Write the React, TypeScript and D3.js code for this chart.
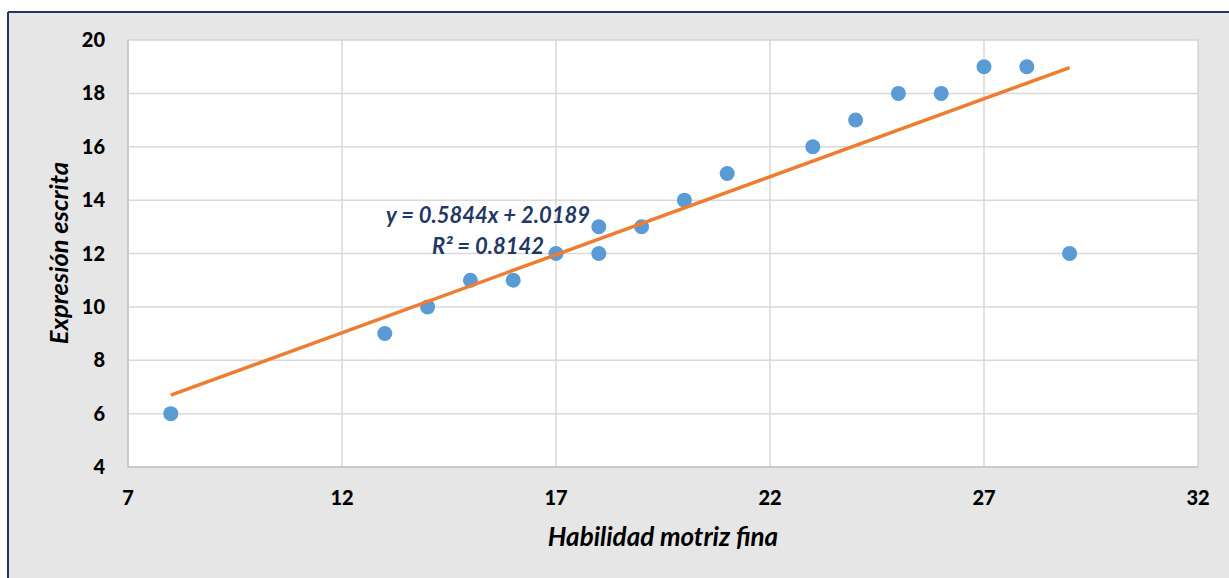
import React from "react";
import * as d3 from "d3";

const xValues = [8, 13, 14, 15, 16, 17, 18, 18, 19, 20, 21, 23, 24, 25, 26, 27, 28, 29];
const yValues = [6, 9, 10, 11, 11, 12, 13, 12, 13, 14, 15, 16, 17, 18, 18, 19, 19, 12];
const xTicks = [7, 12, 17, 22, 27, 32];
const yTicks = [4, 6, 8, 10, 12, 14, 16, 18, 20];
const slope = 0.5844;
const intercept = 2.0189;
const r2 = 0.8142;
const xTitle = "Habilidad motriz fina";
const yTitle = "Expresión escrita";

const W = 1229;
const H = 578;
const plot = { left: 128, top: 40, right: 1198, bottom: 467 };
const FONT = "Lato, 'Open Sans', sans-serif";

export default function App() {
  const x = d3.scaleLinear().domain([7, 32]).range([plot.left, plot.right]);
  const y = d3.scaleLinear().domain([4, 20]).range([plot.bottom, plot.top]);
  const xMin = d3.min(xValues) as number;
  const xMax = d3.max(xValues) as number;
  const trend = d3
    .line<number>()
    .x((d) => x(d))
    .y((d) => y(slope * d + intercept))([xMin, xMax]);

  return (
    <svg
      width={W}
      height={H}
      style={{ position: "absolute", left: 0, top: 0, display: "block" }}
      fontFamily={FONT}
    >
      <rect x={0} y={0} width={W} height={H} fill="#ffffff" />
      <rect x={8} y={12} width={W} height={H} fill="#e6e6e6" />
      <line x1={8} y1={12} x2={W} y2={12} stroke="#1f3864" strokeWidth={2} />
      <line x1={8} y1={12} x2={8} y2={H} stroke="#1f3864" strokeWidth={2} />
      <rect
        x={plot.left}
        y={plot.top}
        width={plot.right - plot.left}
        height={plot.bottom - plot.top}
        fill="#ffffff"
        stroke="#d4d4d4"
        strokeWidth={1.5}
      />
      {yTicks.slice(1, -1).map((t) => (
        <line key={"gy" + t} x1={plot.left} x2={plot.right} y1={y(t)} y2={y(t)} stroke="#d9d9d9" strokeWidth={1.5} />
      ))}
      {xTicks.slice(1, -1).map((t) => (
        <line key={"gx" + t} x1={x(t)} x2={x(t)} y1={plot.top} y2={plot.bottom} stroke="#d9d9d9" strokeWidth={1.5} />
      ))}
      <line x1={plot.left} x2={plot.right} y1={plot.bottom} y2={plot.bottom} stroke="#c4c4c4" strokeWidth={1.5} />
      <line x1={plot.left} x2={plot.left} y1={plot.top} y2={plot.bottom} stroke="#c4c4c4" strokeWidth={1.5} />
      {yTicks.map((t) => (
        <text key={"ty" + t} x={105} y={y(t)} dy="0.35em" textAnchor="end" fontSize={20} fontWeight={900} fill="#000">
          {t}
        </text>
      ))}
      {xTicks.map((t) => (
        <text key={"tx" + t} x={x(t)} y={498} dy="0.35em" textAnchor="middle" fontSize={20} fontWeight={900} fill="#000">
          {t}
        </text>
      ))}
      {xValues.map((xv, i) => (
        <circle key={"p" + i} cx={x(xv)} cy={y(yValues[i])} r={7.5} fill="#5b9bd5" />
      ))}
      <path d={trend || ""} fill="none" stroke="#ed7d31" strokeWidth={3.5} />
      <text x={488} y={215} dy="0.35em" textAnchor="middle" fontSize={22} fontWeight="bold" fontStyle="italic" fill="#1f3864">
        {`y = ${slope}x + ${intercept}`}
      </text>
      <text x={488} y={246} dy="0.35em" textAnchor="middle" fontSize={22} fontWeight="bold" fontStyle="italic" fill="#1f3864">
        {`R² = ${r2}`}
      </text>
      <text x={663} y={537} dy="0.35em" textAnchor="middle" fontSize={26} fontWeight="bold" fontStyle="italic" fill="#000">
        {xTitle}
      </text>
      <text
        transform={`translate(59,253) rotate(-90)`}
        dy="0.35em"
        textAnchor="middle"
        fontSize={25.5}
        fontWeight="bold"
        fontStyle="italic"
        fill="#000"
      >
        {yTitle}
      </text>
    </svg>
  );
}
